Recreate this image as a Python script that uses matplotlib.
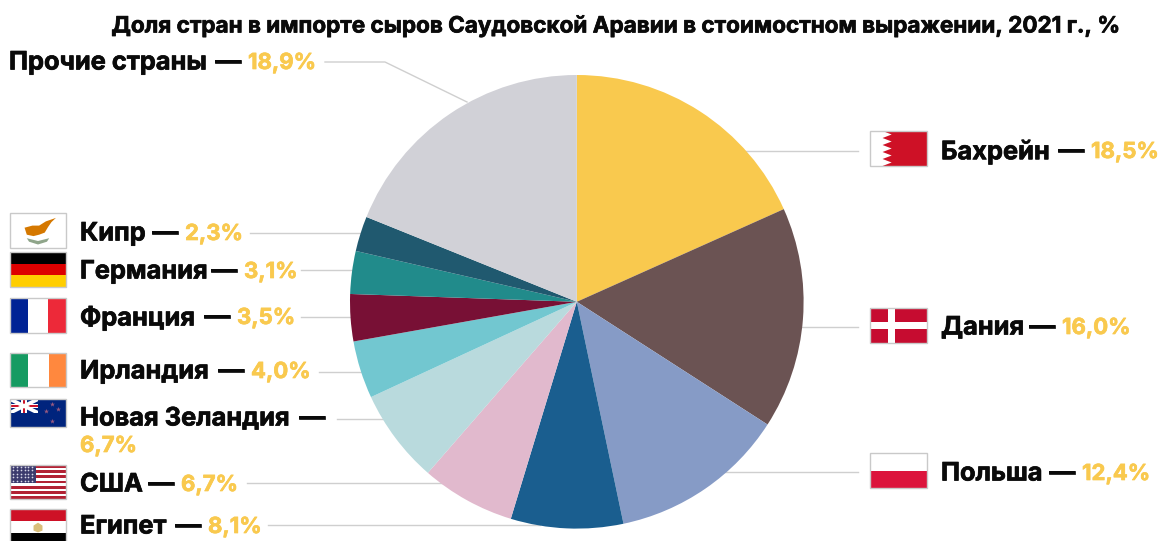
import matplotlib
matplotlib.use('Agg')
import matplotlib.pyplot as plt
import matplotlib.patheffects as pe
from matplotlib.patches import Rectangle, Polygon

plt.rcParams['font.family'] = ['Inter', 'DejaVu Sans']

TITLE = 'Доля стран в импорте сыров Саудовской Аравии в стоимостном выражении, 2021 г., %'
SAVEFIG = 'out.png'

# Clockwise from 12 o'clock
COUNTRIES = ['Бахрейн', 'Дания', 'Польша', 'Египет', 'США', 'Новая Зеландия',
             'Ирландия', 'Франция', 'Германия', 'Кипр', 'Прочие страны']
# Printed labels
SHARES = [18.5, 16.0, 12.4, 8.1, 6.7, 6.7, 4.0, 3.5, 3.1, 2.3, 18.9]
# Slice sizes, they differ a little from the labels
SLICE_SIZES = [18.3, 15.8, 12.6, 8.0, 6.7, 6.7, 4.1, 3.35, 3.05, 2.5, 18.9]
SLICE_COLORS = ['#F9C94E', '#6B5353', '#869BC6', '#1A5E8F', '#E1B9CD', '#B9DADD',
                '#72C7D0', '#781035', '#218B8B', '#20596F', '#D1D1D7']

# Label layout in pixels
NAME_X = [941, 941, 941, 80, 80, 80, 80, 80, 80, 80, 9]
LABEL_Y = [152, 328, 474, 527, 485, 419, 372, 318, 272, 234, 63]
DASH_END = [1084, 1055, 1075, 201, 174, 325, 244, 230, 237, 178, 241]
VALUE_X = [1091, 1062, 1082, 208, 181, 80, 251, 237, 244, 185, 248]
VALUE_Y = [152, 328, 474, 527, 485, 446, 372, 318, 272, 234, 63]

# Leader lines in pixels, they run on under the pie
LEADERS = [
    [(858, 151), (720, 151)],
    [(858, 327), (760, 327)],
    [(858, 472), (700, 472)],
    [(268, 525), (540, 525)],
    [(247, 483), (470, 483)],
    [(337, 419), (420, 419)],
    [(319, 372), (400, 372)],
    [(301, 317), (400, 317)],
    [(301, 270), (400, 270)],
    [(250, 233), (400, 233)],
    [(325, 62), (385, 62), (467, 102)],
]

BLACK = '#0A0A0A'
YELLOW = '#F9C94E'
LINE = '#CFCFCF'
BORDER = '#C9C9C9'
W, H = 1160, 541


def box(ax, x0, y0, x1, y1, fx0, fy0, fx1, fy1, color):
    ax.add_patch(Rectangle((x0 + fx0 * (x1 - x0), y0 + fy0 * (y1 - y0)),
                           (fx1 - fx0) * (x1 - x0), (fy1 - fy0) * (y1 - y0),
                           fc=color, ec='none', zorder=3))


def poly(ax, x0, y0, x1, y1, pts, color):
    xy = [(x0 + a * (x1 - x0), y0 + b * (y1 - y0)) for a, b in pts]
    ax.add_patch(Polygon(xy, closed=True, fc=color, ec='none', zorder=4))


def border(ax, x0, y0, x1, y1):
    ax.add_patch(Rectangle((x0, y0), x1 - x0, y1 - y0, fc='none', ec=BORDER, lw=1, zorder=6))


def flag_bahrain(ax, r):
    box(ax, *r, 0, 0, 1, 1, 'white')
    poly(ax, *r, [(1, 0), (.22, 0), (.38, .1), (.22, .2), (.38, .3), (.22, .4), (.38, .5),
                  (.22, .6), (.38, .7), (.22, .8), (.38, .9), (.22, 1), (1, 1)], '#CE1126')
    border(ax, *r)


def flag_denmark(ax, r):
    box(ax, *r, 0, 0, 1, 1, '#C60C30')
    box(ax, *r, .32, 0, .44, 1, 'white')
    box(ax, *r, 0, .41, 1, .59, 'white')
    border(ax, *r)


def flag_poland(ax, r):
    box(ax, *r, 0, 0, 1, .5, 'white')
    box(ax, *r, 0, .5, 1, 1, '#DC143C')
    border(ax, *r)


def flag_egypt(ax, r):
    box(ax, *r, 0, 0, 1, 1 / 3, '#CE1126')
    box(ax, *r, 0, 1 / 3, 1, 2 / 3, 'white')
    box(ax, *r, 0, 2 / 3, 1, 1, '#000000')
    poly(ax, *r, [(.5, .38), (.58, .46), (.58, .6), (.5, .65), (.42, .6), (.42, .46)], '#D9BE7A')
    border(ax, *r)


def flag_usa(ax, r):
    box(ax, *r, 0, 0, 1, 1, 'white')
    for i in range(0, 13, 2):
        box(ax, *r, 0, i / 13, 1, (i + 1) / 13, '#B22234')
    box(ax, *r, 0, 0, .46, 7 / 13, '#3C3B6E')
    xs, ys = [], []
    for i in range(5):
        for j in range(6):
            xs.append(r[0] + (.05 + j * .07) * (r[2] - r[0]))
            ys.append(r[1] + (.06 + i * .1) * (r[3] - r[1]))
    ax.scatter(xs, ys, s=1.5, c='#D8D8E8', linewidths=0, zorder=5)
    border(ax, *r)


def flag_nz(ax, r):
    box(ax, *r, 0, 0, 1, 1, '#00247D')
    w = .07
    poly(ax, *r, [(0, 0), (w, 0), (.5, .42), (.5, .5), (.5 - w, .5), (0, .08)], 'white')
    poly(ax, *r, [(.5, 0), (.5 - w, 0), (0, .42), (0, .5), (w, .5), (.5, .08)], 'white')
    box(ax, *r, .2, 0, .3, .5, 'white')
    box(ax, *r, 0, .17, .5, .33, 'white')
    box(ax, *r, .225, 0, .275, .5, '#CC142B')
    box(ax, *r, 0, .2, .5, .3, '#CC142B')
    xs = [.75, .64, .86, .75]
    ys = [.18, .42, .36, .8]
    ax.scatter([r[0] + a * (r[2] - r[0]) for a in xs], [r[1] + b * (r[3] - r[1]) for b in ys],
               s=14, marker='*', c='#9A5A80', linewidths=0, zorder=5)
    border(ax, *r)


def flag_ireland(ax, r):
    box(ax, *r, 0, 0, .32, 1, '#169B62')
    box(ax, *r, .32, 0, .7, 1, 'white')
    box(ax, *r, .7, 0, 1, 1, '#FF883E')
    border(ax, *r)


def flag_france(ax, r):
    box(ax, *r, 0, 0, .33, 1, '#002395')
    box(ax, *r, .33, 0, .68, 1, 'white')
    box(ax, *r, .68, 0, 1, 1, '#ED2939')
    border(ax, *r)


def flag_germany(ax, r):
    box(ax, *r, 0, 0, 1, 1 / 3, '#000000')
    box(ax, *r, 0, 1 / 3, 1, 2 / 3, '#DD0000')
    box(ax, *r, 0, 2 / 3, 1, 1, '#FFCE00')
    border(ax, *r)


def flag_cyprus(ax, r):
    box(ax, *r, 0, 0, 1, 1, 'white')
    poly(ax, *r, [(.26, .42), (.4, .36), (.52, .36), (.64, .24), (.82, .14), (.74, .26),
                  (.68, .4), (.62, .56), (.52, .62), (.42, .66), (.3, .62)], '#D57800')
    poly(ax, *r, [(.3, .72), (.5, .8), (.7, .72), (.66, .82), (.5, .9), (.34, .82)], '#8FA58A')
    border(ax, *r)


FLAGS = [
    (flag_bahrain, (870, 131, 927, 166)),
    (flag_denmark, (870, 308, 927, 343)),
    (flag_poland, (870, 453, 927, 488)),
    (flag_egypt, (10, 509, 66, 545)),
    (flag_usa, (10, 465, 66, 499)),
    (flag_nz, (10, 399, 66, 427)),
    (flag_ireland, (10, 353, 66, 387)),
    (flag_france, (10, 298, 66, 333)),
    (flag_germany, (10, 252, 66, 287)),
    (flag_cyprus, (10, 213, 66, 248)),
]


def main():
    fig = plt.figure(figsize=(W / 100, H / 100), dpi=100)

    # Overlay in pixel coordinates, below the pie
    ax = fig.add_axes([0, 0, 1, 1], zorder=0)
    ax.set_xlim(0, W)
    ax.set_ylim(H, 0)
    ax.axis('off')

    # Pie in its own axes
    cx, cy, rad = 576.8, 301.8, 226.8
    pie_ax = fig.add_axes([(cx - rad) / W, 1 - (cy + rad) / H, 2 * rad / W, 2 * rad / H], zorder=1)
    pie_ax.patch.set_visible(False)
    pie_ax.pie(SLICE_SIZES, colors=SLICE_COLORS, startangle=90, counterclock=False, radius=1)
    pie_ax.set_xlim(-1, 1)
    pie_ax.set_ylim(-1, 1)

    thick_black = [pe.withStroke(linewidth=0.5, foreground=BLACK)]
    thick_yellow = [pe.withStroke(linewidth=0.5, foreground=YELLOW)]

    ax.text(615.5, 26, TITLE, fontsize=16.2, fontweight='bold', color=BLACK, ha='center', va='center',
            path_effects=thick_black)

    for pts in LEADERS:
        ax.plot([p[0] for p in pts], [p[1] for p in pts], color=LINE, lw=1, zorder=1)

    for func, rect in FLAGS:
        func(ax, rect)

    for i, name in enumerate(COUNTRIES):
        ax.text(NAME_X[i], LABEL_Y[i], name, fontsize=18.3, fontweight='bold', color=BLACK, va='center',
                path_effects=thick_black)
        ax.text(DASH_END[i], LABEL_Y[i], '—', fontsize=18.5, fontweight='bold', color=BLACK, va='center',
                ha='right', path_effects=thick_black)
        ax.text(VALUE_X[i], VALUE_Y[i], f'{SHARES[i]:.1f}%'.replace('.', ','), fontsize=15.9,
                fontweight='bold', color=YELLOW, va='center', path_effects=thick_yellow)

    fig.savefig(SAVEFIG, dpi=100)
    plt.close(fig)


if __name__ == '__main__':
    main()
